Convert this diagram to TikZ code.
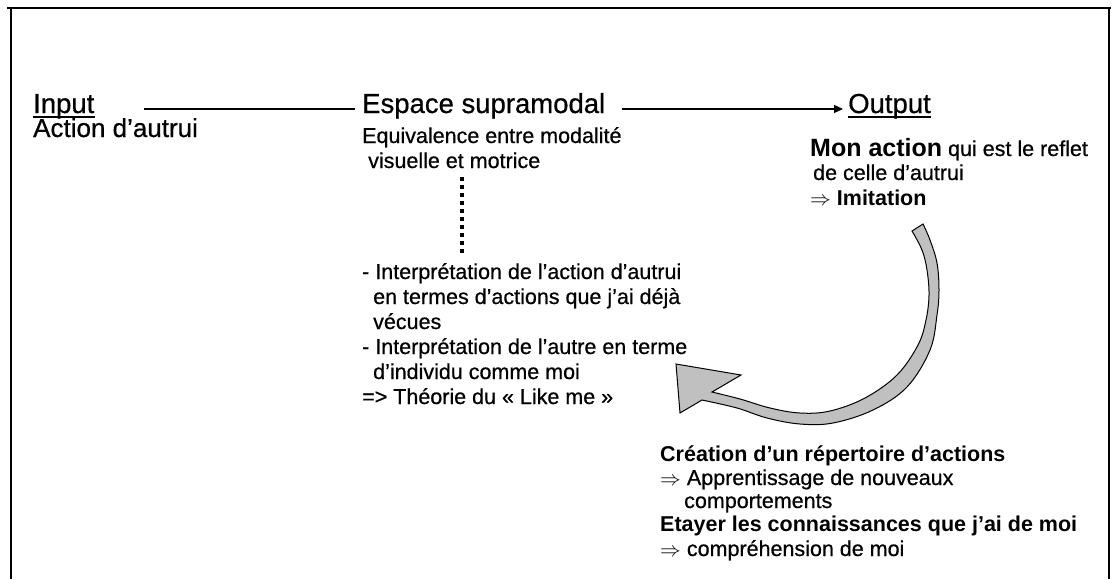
\documentclass[tikz,border=0pt]{standalone}
\usepackage{fontspec}
\setmainfont{Liberation Sans}
\newfontfamily\regfont{Liberation Sans}[FakeBold=0.6]
\newcommand{\heavy}[1]{{\normalfont\bfseries #1}}
\usetikzlibrary{arrows.meta}
\definecolor{arrowgray}{RGB}{192,192,192}
\begin{document}
\begin{tikzpicture}[x=1pt,y=-1pt,
  frame/.style={line width=2.6pt},
  head/.style={font=\regfont\fontsize{27.5}{30}\selectfont, inner sep=0pt, anchor=base west},
  txt/.style={font=\regfont\fontsize{21.5}{25}\selectfont, inner sep=0pt, anchor=base west},
  big/.style={font=\regfont\fontsize{26}{30}\selectfont, inner sep=0pt, anchor=base west},
  btxt/.style={font=\normalfont\bfseries\fontsize{21.5}{25}\selectfont, inner sep=0pt, anchor=base west},
  uline/.style={line width=1.6pt},
  link/.style={line width=1.2pt},
  dotline/.style={line width=4pt, dash pattern=on 4pt off 4pt},
  curvearrow/.style={draw=black, line width=1pt, fill=arrowgray, line join=miter}]
\useasboundingbox (0,0) rectangle (1112,579);
% frame
\draw[frame] (7,8) -- (1111,8);
\draw[frame] (11,8) -- (11,579);
\draw[frame] (1109,8) -- (1109,579);
% left column
\node[head] (input) at (33,113) {Input};
\draw[uline] ([yshift=-4pt]input.base west) -- ([yshift=-4pt]input.base east);
\node[big] (action) at (33,137) {Action d’autrui};
% middle column
\node[head] (espace) at (362,113) {Espace supramodal};
\node[txt] (equi1) at (362,143) {Equivalence entre modalité};
\node[txt] (equi2) at (368,168) {visuelle et motrice};
\node[txt] (int1) at (362,279) {- Interprétation de l’action d’autrui};
\node[txt] (int2) at (373,304) {en termes d’actions que j’ai déjà};
\node[txt] (int3) at (373,329) {vécues};
\node[txt] (int4) at (362,354) {- Interprétation de l’autre en terme};
\node[txt] (int5) at (373,379) {d’individu comme moi};
\node[txt] (int6) at (362,404) {=> Théorie du « Like me »};
% right column
\node[head] (output) at (848,113) {Output};
\draw[uline] ([yshift=-4pt]output.base west) -- ([yshift=-4pt]output.base east);
\node[txt] (mon1) at (810,156) {{\normalfont\bfseries\fontsize{25}{28}\selectfont Mon action} qui est le reflet};
\node[txt] (mon2) at (813,180) {de celle d’autrui};
\node[txt] (mon3) at (810,205) {$\Rightarrow$ \heavy{Imitation}};
% bottom block
\node[btxt] (rep1) at (660,461) {Création d’un répertoire d’actions};
\node[txt] (rep2) at (660,485) {$\Rightarrow$ Apprentissage de nouveaux};
\node[txt] (rep3) at (684,508) {comportements};
\node[btxt] (rep4) at (660,531) {Etayer les connaissances que j’ai de moi};
\node[txt] (rep5) at (660,556) {$\Rightarrow$ compréhension de moi};
% connectors
\coordinate (l1a) at (144,109);
\coordinate (l1b) at (355,109);
\coordinate (l2a) at (622,109);
\coordinate (l2b) at (843,109);
\draw[link] (l1a) -- (l1b);
\draw[link, -{Triangle[length=9pt,width=8pt]}] (l2a) -- (l2b);
\coordinate (d1) at (462,177);
\coordinate (d2) at (462,253);
\draw[dotline] (d1) -- (d2);
% curved block arrow
\draw[curvearrow]
  plot[smooth, tension=0.6] coordinates {(923,224) (930,240) (937,263) (939,290) (937,315) (930,350) (907,387) (873,410) (833,423) (800,424) (767,418) (737,408) (702,400)}
  -- (680,413) -- (676,364) -- (741,375)
  -- plot[smooth, tension=0.6] coordinates {(712,392) (740,399) (770,408) (800,413) (830,411) (865,398) (897,375) (918,345) (926,320) (929,295) (927,270) (922,250) (912,231)}
  -- cycle;
\end{tikzpicture}
\end{document}
